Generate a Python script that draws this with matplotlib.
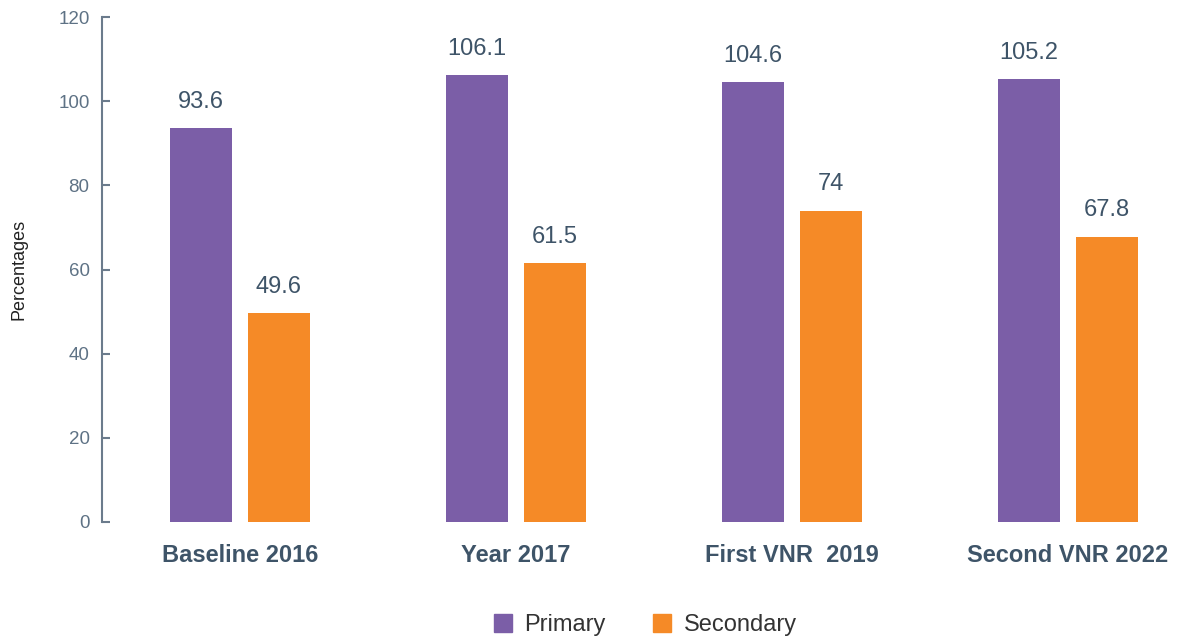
import numpy as np
import matplotlib
matplotlib.use("Agg")
import matplotlib.pyplot as plt
from matplotlib.lines import Line2D

categories = ["Baseline 2016", "Year 2017", "First VNR  2019", "Second VNR 2022"]
primary = [93.6, 106.1, 104.6, 105.2]
secondary = [49.6, 61.5, 74, 67.8]
primary_labels = ["93.6", "106.1", "104.6", "105.2"]
secondary_labels = ["49.6", "61.5", "74", "67.8"]

purple = "#7B5EA7"
orange = "#F58A27"
text_dark = "#3E5468"
tick_col = "#5E7285"

plt.rcParams['font.family'] = ['Liberation Sans', 'DejaVu Sans']

fig = plt.figure(figsize=(11.87, 6.38), dpi=100)
ax = fig.add_axes([102 / 1187, 1 - 522 / 638, 1 - 102 / 1187, (522 - 17) / 638])

x = np.arange(len(categories))
w = 0.225
off = 0.141
b1 = ax.bar(x - off, primary, w, color=purple)
b2 = ax.bar(x + off, secondary, w, color=orange)

for bars, labs in ((b1, primary_labels), (b2, secondary_labels)):
    for rect, lab in zip(bars, labs):
        ax.annotate(lab, (rect.get_x() + rect.get_width() / 2, rect.get_height()),
                    xytext=(0, 11), textcoords="offset points", ha="center", va="bottom",
                    fontsize=17, color=text_dark)

ax.set_xlim(-0.5, (1187 - 240) / 276)
ax.set_ylim(0, 120)
ax.set_yticks(range(0, 121, 20))
ax.set_xticks(x)
ax.set_xticklabels(categories, fontsize=17, fontweight="bold", color=text_dark)
ax.tick_params(axis="x", length=0, pad=16)
ax.tick_params(axis="y", direction="in", length=6, width=1.5, color="#6B7B8C",
               labelsize=13.5, labelcolor=tick_col, pad=9)
for s in ("top", "right", "bottom"):
    ax.spines[s].set_visible(False)
ax.spines["left"].set_color("#6B7B8C")
ax.spines["left"].set_linewidth(1.5)
ax.set_ylabel("Percentages", fontsize=13, color="#222222", labelpad=22)

handles = [Line2D([], [], marker="s", linestyle="none", markersize=13, color=purple),
           Line2D([], [], marker="s", linestyle="none", markersize=13, color=orange)]
fig.legend(handles, ["Primary", "Secondary"], loc="center", bbox_to_anchor=(645 / 1187, 1 - 625 / 638),
           ncol=2, frameon=False, fontsize=17, handlelength=0.8, handletextpad=0.5,
           columnspacing=2.0, labelcolor="#333333")

fig.savefig("out.png", dpi=100)
